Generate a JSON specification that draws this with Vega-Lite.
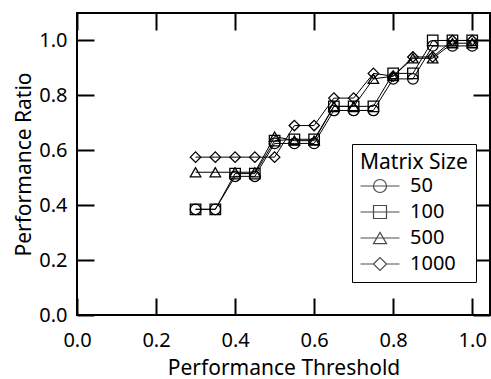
{
  "$schema": "https://vega.github.io/schema/vega-lite/v6.json",
  "width": 413,
  "height": 302,
  "autosize": {"type": "none"},
  "padding": {"left": 77, "top": 13, "right": 1, "bottom": 64},
  "background": "white",
  "config": {
    "view": {"stroke": "black", "strokeWidth": 2},
    "font": "Noto Sans",
    "axis": {"grid": false, "domain": false, "ticks": true, "tickColor": "black", "tickWidth": 2, "tickSize": 17, "labelColor": "black", "titleColor": "black", "labelFont": "Noto Sans", "titleFont": "Noto Sans", "labelFontSize": 20, "titleFontSize": 21, "titleFontWeight": "normal", "labelFlush": false, "labelOverlap": false}
  },
  "data": {"values": [
    {"t": 0.30, "size": "50", "r": 0.385}, {"t": 0.35, "size": "50", "r": 0.385}, {"t": 0.40, "size": "50", "r": 0.505}, {"t": 0.45, "size": "50", "r": 0.505}, {"t": 0.50, "size": "50", "r": 0.625}, {"t": 0.55, "size": "50", "r": 0.625}, {"t": 0.60, "size": "50", "r": 0.625}, {"t": 0.65, "size": "50", "r": 0.745}, {"t": 0.70, "size": "50", "r": 0.745}, {"t": 0.75, "size": "50", "r": 0.745}, {"t": 0.80, "size": "50", "r": 0.86}, {"t": 0.85, "size": "50", "r": 0.86}, {"t": 0.90, "size": "50", "r": 0.98}, {"t": 0.95, "size": "50", "r": 0.98}, {"t": 1.00, "size": "50", "r": 0.98},
    {"t": 0.30, "size": "100", "r": 0.385}, {"t": 0.35, "size": "100", "r": 0.385}, {"t": 0.40, "size": "100", "r": 0.515}, {"t": 0.45, "size": "100", "r": 0.515}, {"t": 0.50, "size": "100", "r": 0.635}, {"t": 0.55, "size": "100", "r": 0.64}, {"t": 0.60, "size": "100", "r": 0.64}, {"t": 0.65, "size": "100", "r": 0.76}, {"t": 0.70, "size": "100", "r": 0.76}, {"t": 0.75, "size": "100", "r": 0.76}, {"t": 0.80, "size": "100", "r": 0.88}, {"t": 0.85, "size": "100", "r": 0.88}, {"t": 0.90, "size": "100", "r": 1.0}, {"t": 0.95, "size": "100", "r": 1.0}, {"t": 1.00, "size": "100", "r": 1.0},
    {"t": 0.30, "size": "500", "r": 0.52}, {"t": 0.35, "size": "500", "r": 0.52}, {"t": 0.40, "size": "500", "r": 0.52}, {"t": 0.45, "size": "500", "r": 0.52}, {"t": 0.50, "size": "500", "r": 0.65}, {"t": 0.55, "size": "500", "r": 0.635}, {"t": 0.60, "size": "500", "r": 0.635}, {"t": 0.65, "size": "500", "r": 0.76}, {"t": 0.70, "size": "500", "r": 0.76}, {"t": 0.75, "size": "500", "r": 0.86}, {"t": 0.80, "size": "500", "r": 0.87}, {"t": 0.85, "size": "500", "r": 0.935}, {"t": 0.90, "size": "500", "r": 0.935}, {"t": 0.95, "size": "500", "r": 0.99}, {"t": 1.00, "size": "500", "r": 0.99},
    {"t": 0.30, "size": "1000", "r": 0.575}, {"t": 0.35, "size": "1000", "r": 0.575}, {"t": 0.40, "size": "1000", "r": 0.575}, {"t": 0.45, "size": "1000", "r": 0.575}, {"t": 0.50, "size": "1000", "r": 0.575}, {"t": 0.55, "size": "1000", "r": 0.69}, {"t": 0.60, "size": "1000", "r": 0.69}, {"t": 0.65, "size": "1000", "r": 0.79}, {"t": 0.70, "size": "1000", "r": 0.79}, {"t": 0.75, "size": "1000", "r": 0.88}, {"t": 0.80, "size": "1000", "r": 0.87}, {"t": 0.85, "size": "1000", "r": 0.94}, {"t": 0.90, "size": "1000", "r": 0.94}, {"t": 0.95, "size": "1000", "r": 1.0}, {"t": 1.00, "size": "1000", "r": 1.0}
  ]},
  "layer": [
    {
      "mark": {"type": "line", "color": "black", "strokeWidth": 1},
      "encoding": {
        "x": {"field": "t", "type": "quantitative", "scale": {"domain": [0, 1.045], "nice": false, "zero": false},
          "axis": {"orient": "bottom", "values": [0, 0.2, 0.4, 0.6, 0.8, 1.0], "format": ".1f", "offset": -17, "labelPadding": 15, "title": "Performance Threshold", "titlePadding": 7}},
        "y": {"field": "r", "type": "quantitative", "scale": {"domain": [0, 1.1], "nice": false, "zero": false},
          "axis": {"orient": "left", "values": [0, 0.2, 0.4, 0.6, 0.8, 1.0], "format": ".1f", "offset": -17, "labelPadding": 10, "title": "Performance Ratio", "titlePadding": 4}},
        "detail": {"field": "size"}
      }
    },
    {
      "mark": {"type": "point", "filled": false, "stroke": "black", "strokeWidth": 1.3, "size": 110, "opacity": 1},
      "encoding": {
        "x": {"field": "t", "type": "quantitative", "axis": {"orient": "top", "values": [0, 0.2, 0.4, 0.6, 0.8, 1.0], "offset": -17, "labels": false, "title": null}},
        "y": {"field": "r", "type": "quantitative", "axis": {"orient": "right", "values": [0, 0.2, 0.4, 0.6, 0.8, 1.0], "offset": -17, "labels": false, "title": null}},
        "shape": {"field": "size", "type": "nominal",
          "scale": {"domain": ["50", "100", "500", "1000"], "range": ["circle", "square", "triangle-up", "diamond"]},
          "legend": null
        }
      }
    },
    {
      "transform": [{"filter": "datum.t > 5"}],
      "mark": {"type": "point", "filled": false, "stroke": "black", "strokeWidth": 1.2, "size": 169},
      "encoding": {
        "x": {"field": "t", "type": "quantitative", "axis": null},
        "y": {"field": "r", "type": "quantitative", "axis": null},
        "shape": {"field": "size", "type": "nominal",
          "scale": {"domain": ["50", "100", "500", "1000"], "range": ["M-1,0A1,1 0 1,0 1,0A1,1 0 1,0 -1,0M-3,0L3,0", "M-1,-1L1,-1L1,1L-1,1ZM-3,0L3,0", "M0,-0.87L1,0.87L-1,0.87ZM-3,0L3,0", "M-1,0L0,-1L1,0L0,1ZM-3,0L-1,0M1,0L3,0"]},
          "legend": {
            "title": "Matrix Size", "orient": "none", "legendX": 275, "legendY": 131,
            "titleFont": "Noto Sans", "titleFontSize": 21, "titleFontWeight": "normal", "titleColor": "black", "titlePadding": 3,
            "labelFont": "Noto Sans", "labelFontSize": 20, "labelColor": "black",
            "strokeColor": "black", "fillColor": "white", "padding": 8,
            "symbolSize": 169, "symbolStrokeColor": "black", "symbolStrokeWidth": 1.2, "symbolFillColor": "transparent",
            "rowPadding": 6, "labelOffset": 20, "symbolOffset": 10
          }
        }
      }
    }
  ],
  "resolve": {"axis": {"x": "independent", "y": "independent"}, "scale": {"shape": "independent"}}
}
